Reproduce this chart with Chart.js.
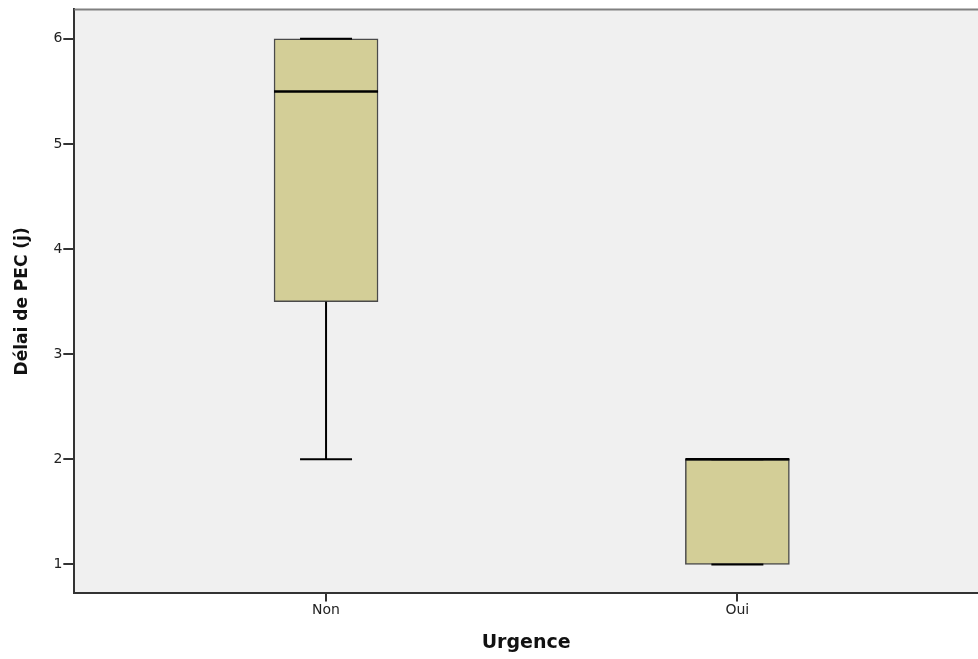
<!DOCTYPE html>
<html>
<head>
<meta charset="utf-8">
<script src="https://cdn.jsdelivr.net/npm/chart.js@4.4.1/dist/chart.umd.min.js"></script>
<style>
    html, body { margin: 0; padding: 0; background: #fff; }
    #wrap { width: 978px; height: 659px; }
</style>
</head>
<body>
<div id="wrap"><canvas id="boxChart"></canvas></div>
<script>
// Data
const categories = ['Non', 'Oui'];
const minValues = [2, 1];
const q1Values = [3.5, 1];
const medianValues = [5.5, 2];
const q3Values = [6, 2];
const maxValues = [6, 2];
const yTicks = [1, 2, 3, 4, 5, 6];

const boxFill = '#d3ce97';
const boxBorder = '#4a4a4a';
const FONT = 'DejaVu Sans, Verdana, sans-serif';

// Plot background + top border
const plotBackground = {
    id: 'plotBackground',
    beforeDraw: (chart) => {
        const { ctx, chartArea: a } = chart;
        ctx.save();
        ctx.fillStyle = '#f0f0f0';
        ctx.fillRect(a.left, a.top, a.right - a.left, a.bottom - a.top);
        ctx.restore();
    },
    afterDraw: (chart) => {
        const { ctx, chartArea: a } = chart;
        ctx.save();
        ctx.strokeStyle = '#808080';
        ctx.lineWidth = 2;
        ctx.beginPath();
        ctx.moveTo(a.left, a.top);
        ctx.lineTo(a.right, a.top);
        ctx.stroke();
        ctx.restore();
    }
};

// Whiskers, caps and medians
const boxExtras = {
    id: 'boxExtras',
    afterDatasetsDraw: (chart) => {
        const { ctx } = chart;
        const xs = chart.scales.x;
        const ys = chart.scales.y;
        const bars = chart.getDatasetMeta(0).data;
        ctx.save();
        ctx.strokeStyle = '#000';
        categories.forEach((c, i) => {
            const cx = xs.getPixelForValue(i);
            const half = bars[i].width / 2;
            const capHalf = half / 2;
            ctx.lineWidth = 2;
            // lower whisker
            if (minValues[i] < q1Values[i]) {
                ctx.beginPath();
                ctx.moveTo(cx, ys.getPixelForValue(q1Values[i]));
                ctx.lineTo(cx, ys.getPixelForValue(minValues[i]));
                ctx.stroke();
            }
            // upper whisker
            if (maxValues[i] > q3Values[i]) {
                ctx.beginPath();
                ctx.moveTo(cx, ys.getPixelForValue(q3Values[i]));
                ctx.lineTo(cx, ys.getPixelForValue(maxValues[i]));
                ctx.stroke();
            }
            // caps
            [minValues[i], maxValues[i]].forEach(v => {
                const py = ys.getPixelForValue(v);
                ctx.beginPath();
                ctx.moveTo(cx - capHalf, py);
                ctx.lineTo(cx + capHalf, py);
                ctx.stroke();
            });
            // median
            ctx.lineWidth = 2.5;
            const my = ys.getPixelForValue(medianValues[i]);
            ctx.beginPath();
            ctx.moveTo(cx - half, my);
            ctx.lineTo(cx + half, my);
            ctx.stroke();
        });
        ctx.restore();
    }
};

const ctx = document.getElementById('boxChart').getContext('2d');
new Chart(ctx, {
    type: 'bar',
    data: {
        datasets: [{
            label: 'Boîte',
            data: categories.map((c, i) => ({ x: i, y: [q1Values[i], q3Values[i]] })),
            backgroundColor: boxFill,
            borderColor: boxBorder,
            borderWidth: 1.5,
            borderSkipped: false,
            barThickness: 104
        }]
    },
    options: {
        responsive: true,
        maintainAspectRatio: false,
        animation: false,
        layout: { padding: { top: 5, right: 0, bottom: 5, left: 12 } },
        plugins: {
            legend: { display: false },
            tooltip: { enabled: false }
        },
        scales: {
            x: {
                type: 'linear',
                offset: false,
                min: -0.612,
                max: 1.585,
                afterBuildTicks: (axis) => { axis.ticks = categories.map((c, i) => ({ value: i })); },
                ticks: {
                    callback: (v) => categories[v],
                    color: '#222',
                    font: { family: FONT, size: 14 },
                    padding: 1,
                    maxRotation: 0,
                    autoSkip: false
                },
                grid: { offset: false, drawOnChartArea: false, drawTicks: true, tickLength: 8, color: '#333', lineWidth: 2 },
                border: { display: true, color: '#333', width: 2 },
                title: {
                    display: true,
                    text: 'Urgence',
                    color: '#111',
                    font: { family: FONT, size: 19, weight: 'bold' },
                    padding: { top: 11, bottom: 0 }
                }
            },
            y: {
                min: 0.725,
                max: 6.28,
                afterBuildTicks: (axis) => { axis.ticks = yTicks.map(v => ({ value: v })); },
                ticks: {
                    color: '#222',
                    font: { family: FONT, size: 14 },
                    padding: 1
                },
                grid: { drawOnChartArea: false, drawTicks: true, tickLength: 11, color: '#333', lineWidth: 2 },
                border: { display: true, color: '#333', width: 2 },
                title: {
                    display: true,
                    text: 'Délai de PEC (j)',
                    color: '#111',
                    font: { family: FONT, size: 17, weight: 'bold' },
                    padding: { top: 0, bottom: 20 }
                }
            }
        }
    },
    plugins: [plotBackground, boxExtras]
});
</script>
</body>
</html>
